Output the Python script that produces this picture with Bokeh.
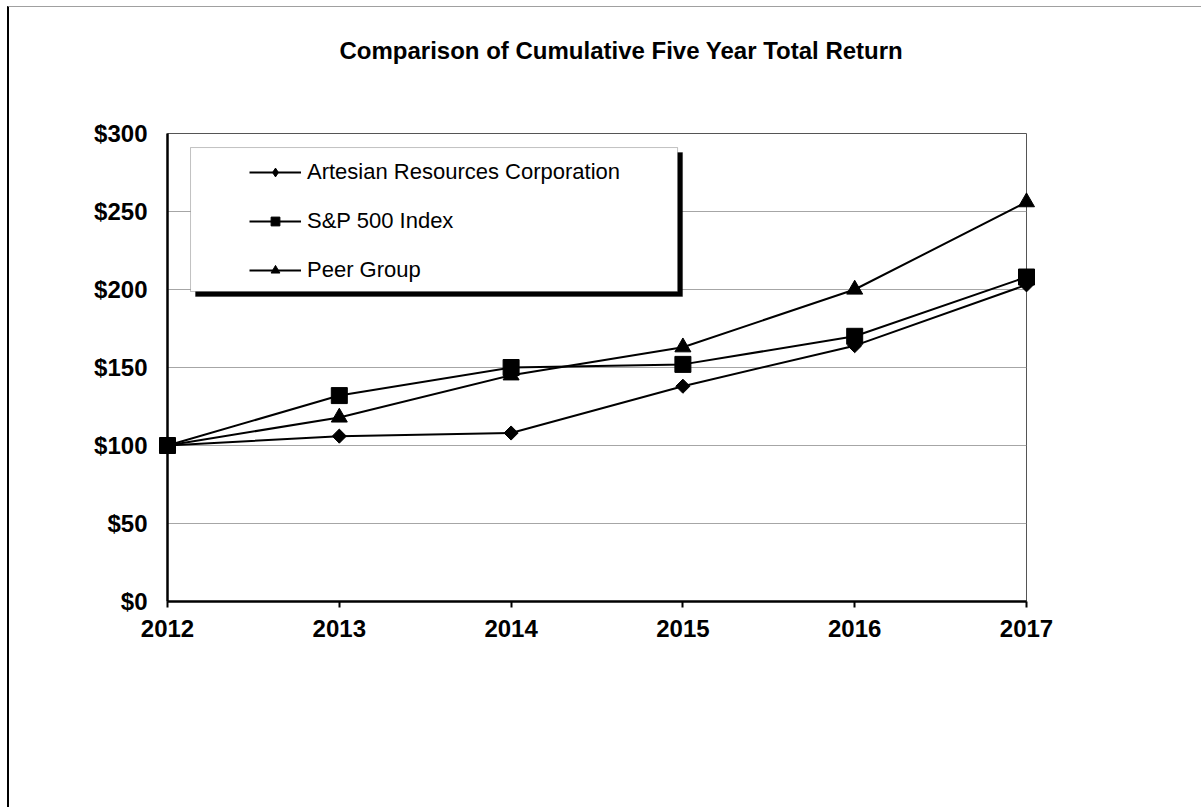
import numpy as np
from bokeh.plotting import figure
from bokeh.models import (Range1d, FixedTicker, PrintfTickFormatter, Legend, LegendItem,
                          BoxAnnotation, Title)
from bokeh.embed import file_html
from bokeh.resources import INLINE

# ---- data ----
years = [2012, 2013, 2014, 2015, 2016, 2017]
artesian = [100, 106, 108, 138, 164, 203]
sp500 = [100, 132, 150, 152, 170, 208]
peer = [100, 118, 145, 163, 200, 256]
y_ticks = [0, 50, 100, 150, 200, 250, 300]
series_names = ["Artesian Resources Corporation", "S&P 500 Index", "Peer Group"]
title_text = "Comparison of Cumulative Five Year Total Return"

FONT = "Liberation Sans"

p = figure(width=1194, height=801, output_backend="svg", toolbar_location=None,
           x_range=Range1d(years[0], years[-1]), y_range=Range1d(y_ticks[0], y_ticks[-1]),
           min_border_left=158, min_border_right=177, min_border_top=126, min_border_bottom=207,
           background_fill_color="white", border_fill_color="white", title=None)
p.margin = (6, 0, 0, 7)
p.styles = {"border-left": "2px solid #000000", "border-top": "1px solid #a0a0a0"}

# title: a blank spacer title next to the frame, then the real title above it
p.add_layout(Title(text=" ", text_font_size="10px", standoff=57), "above")
p.add_layout(Title(text=title_text, text_font=FONT, text_font_size="24px", text_font_style="bold",
                   text_color="black", align="left", offset=172, standoff=0), "above")

# frame outline
p.outline_line_color = "#555555"
p.outline_line_width = 1

# grid
p.xgrid.visible = False
p.ygrid.ticker = FixedTicker(ticks=y_ticks)
p.ygrid.grid_line_color = "#a6a6a6"
p.ygrid.grid_line_width = 1

# axes
p.xaxis.ticker = FixedTicker(ticks=years)
p.yaxis.ticker = FixedTicker(ticks=y_ticks)
p.yaxis.formatter = PrintfTickFormatter(format="$%d")
for ax in (p.xaxis, p.yaxis):
    ax.axis_line_color = "black"
    ax.axis_line_width = 2.5
    ax.major_label_text_font = FONT
    ax.major_label_text_font_size = "24px"
    ax.major_label_text_font_style = "bold"
    ax.major_label_text_color = "black"
    ax.minor_tick_line_color = None
p.xaxis.major_tick_in = 0
p.xaxis.major_tick_out = 6
p.xaxis.major_tick_line_color = "black"
p.xaxis.major_tick_line_width = 2
p.xaxis.major_label_standoff = 12
p.yaxis.major_tick_in = 0
p.yaxis.major_tick_out = 0
p.yaxis.major_label_standoff = 20

# legend box with shadow (layout decoration, data-space position)
LEG_L, LEG_R, LEG_B, LEG_T = 2012.134, 2014.969, 198.7, 291.0
SH_DX, SH_DY = 0.029, 3.2
p.add_layout(BoxAnnotation(left=LEG_L + SH_DX, right=LEG_R + SH_DX, bottom=LEG_B - SH_DY, top=LEG_T - SH_DY,
                           fill_color="black", fill_alpha=1, line_color="black", line_width=1))
p.add_layout(BoxAnnotation(left=LEG_L, right=LEG_R, bottom=LEG_B, top=LEG_T,
                           fill_color="white", fill_alpha=1, line_color="#333333", line_width=1))

# series
items = []
values = [artesian, sp500, peer]

# Artesian: diamond (legend shows a diamond; plot shows a rotated square on top)
lr = p.line(years, artesian, line_color="black", line_width=2)
sr_leg = p.scatter(years, artesian, marker="diamond", size=12, fill_color="black", line_color="black")
sr_leg.level = "overlay"
sr = p.scatter(years, artesian, marker="square", size=10, angle=np.pi / 4,
               fill_color="black", line_color="black")
sr.level = "overlay"
items.append(LegendItem(label=series_names[0], renderers=[lr, sr_leg]))

for name, vals, mk in zip(series_names[1:], values[1:], ["square", "triangle"]):
    lr = p.line(years, vals, line_color="black", line_width=2)
    sr = p.scatter(years, vals, marker=mk, size=16, fill_color="black", line_color="black")
    sr.level = "overlay"
    items.append(LegendItem(label=name, renderers=[lr, sr]))

legend = Legend(items=items, location=(82, 318), orientation="vertical",
                background_fill_alpha=0, border_line_alpha=0, padding=0, margin=0,
                glyph_width=52, glyph_height=22, label_height=22, spacing=23, label_standoff=6,
                label_text_font=FONT, label_text_font_size="22px", label_text_color="black")
p.add_layout(legend, "center")

open("out.html", "w").write(file_html(p, INLINE))
